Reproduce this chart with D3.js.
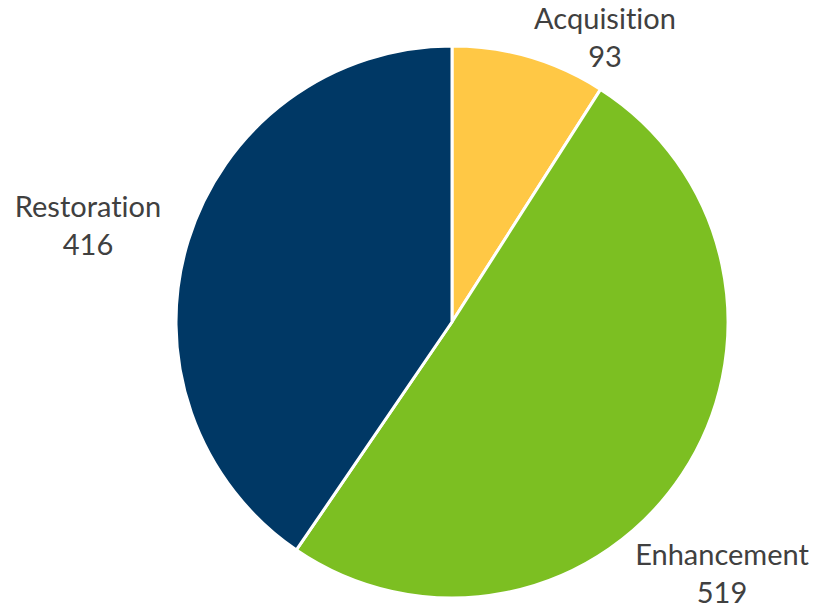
<!DOCTYPE html>
<html>
<head>
<meta charset="utf-8">
<script src="https://cdn.jsdelivr.net/npm/d3@7"></script>
<style>
  html, body { margin: 0; padding: 0; background: #fff; }
  text { font-family: Lato, "Open Sans", sans-serif; fill: #404040; font-variant-ligatures: none; }
</style>
</head>
<body>
<div id="chart"></div>
<script>
// pie values
const categories = ["Acquisition", "Enhancement", "Restoration"];
const counts = [93, 519, 416];
const colors = ["#FFC845", "#7CBF22", "#003865"];
// label anchor points (centre x, first baseline y)
const labelPos = [[605, 29], [722, 565], [88, 217]];

const W = 825, H = 609;
const cx = 452, cy = 322, R = 276;

const svg = d3.select("#chart").append("svg")
  .attr("width", W).attr("height", H);

const pie = d3.pie().sort(null).value(d => d.v);
const data = categories.map((c, i) => ({ c, v: counts[i], col: colors[i] }));
const arcs = pie(data);
const arc = d3.arc().innerRadius(0).outerRadius(R);

const g = svg.append("g").attr("transform", `translate(${cx},${cy})`);
g.selectAll("path").data(arcs).join("path")
  .attr("d", arc)
  .attr("fill", d => d.data.col)
  .attr("stroke", "#fff").attr("stroke-width", 3).attr("stroke-linejoin", "round");

arcs.forEach((a, i) => {
  const [x, y] = labelPos[i];
  const t = svg.append("text").attr("text-anchor", "middle").style("font-size", "29px");
  t.append("tspan").attr("x", x).attr("y", y).text(a.data.c);
  t.append("tspan").attr("x", x).attr("y", y + 38).text(a.data.v);
});
</script>
</body>
</html>
